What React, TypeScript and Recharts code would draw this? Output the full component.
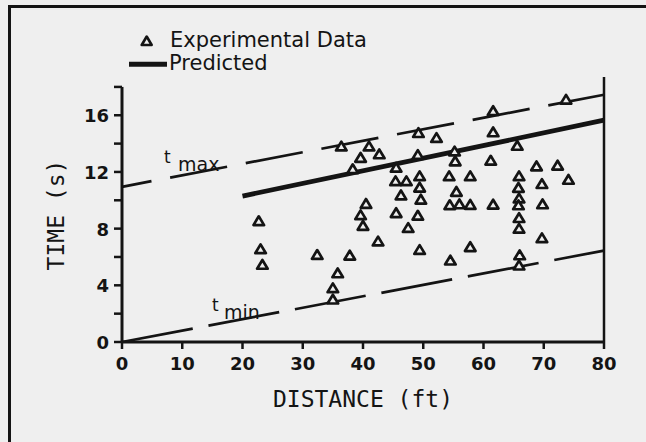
import React from 'react';
import { ComposedChart, Scatter, Line, XAxis, YAxis, ReferenceLine, Legend } from 'recharts';

const expDistance = [
  22.7, 23.0, 23.3, 32.4, 37.8, 35.8, 35.0, 35.0, 36.4, 38.3, 39.6, 41.0, 42.7, 40.5, 39.6, 40.0,
  42.5, 45.5, 45.4, 47.2, 46.3, 45.5, 47.5, 49.1, 49.4, 49.2, 49.1, 49.4, 49.4, 49.6, 52.2, 55.2,
  55.3, 54.3, 55.5, 54.4, 56.0, 57.8, 57.8, 57.8, 54.5, 61.6, 61.6, 61.2, 61.6, 65.6, 65.9, 65.8,
  65.9, 65.8, 65.9, 65.9, 66.0, 65.9, 68.8, 69.7, 69.8, 69.7, 72.3, 74.1, 73.7,
];
const expTime = [
  8.53, 6.55, 5.45, 6.15, 6.1, 4.85, 3.8, 3.0, 13.8, 12.2, 13.0, 13.8, 13.25, 9.75, 8.95, 8.2,
  7.1, 12.3, 11.35, 11.35, 10.35, 9.1, 8.05, 8.92, 6.5, 14.75, 13.2, 11.7, 10.9, 10.05, 14.4, 13.45,
  12.75, 11.7, 10.6, 9.66, 9.72, 9.68, 11.7, 6.7, 5.75, 16.3, 14.8, 12.8, 9.7, 13.85, 11.7, 10.88,
  10.13, 9.65, 8.75, 8.0, 6.12, 5.4, 12.4, 11.15, 9.72, 7.33, 12.45, 11.45, 17.1,
];

const predDistance = [20, 80];
const predTime = [10.3, 15.65];
const tMaxDistance = [0, 80];
const tMaxTime = [10.95, 17.45];
const tMinDistance = [0, 80];
const tMinTime = [0, 6.45];

const xTicks = [0, 10, 20, 30, 40, 50, 60, 70, 80];
const yTicks = [0, 2, 4, 6, 8, 10, 12, 14, 16, 18];
const yLabels = [0, 4, 8, 12, 16];

const zip = (xs: number[], ys: number[]) => xs.map((x, i) => ({ x, y: ys[i] }));

const expData = zip(expDistance, expTime);
const predData = zip(predDistance, predTime);
const tMaxData = zip(tMaxDistance, tMaxTime);
const tMinData = zip(tMinDistance, tMinTime);

const INK = '#141414';
const PAPER = '#efefef';
const SANS = '"DejaVu Sans", sans-serif';
const MONO = '"DejaVu Sans Mono", monospace';

if (typeof document !== 'undefined') {
  document.body.style.margin = '0';
  document.body.style.background = PAPER;
}

const Triangle = ({ cx, cy }: any) => (
  <path
    d={`M${cx},${cy - 4.8} L${cx + 5.3},${cy + 4} L${cx - 5.3},${cy + 4} Z`}
    fill={PAPER}
    stroke={INK}
    strokeWidth={2.7}
    strokeLinejoin="round"
  />
);

const XTick = ({ x, y, payload }: any) => (
  <text x={x} y={y + 19} textAnchor="middle" fill={INK} fontFamily={SANS} fontSize={18} fontWeight={700}>
    {payload.value}
  </text>
);

const YTick = ({ x, y, payload }: any) =>
  yLabels.includes(payload.value) ? (
    <text x={x - 3} y={y + 7} textAnchor="end" fill={INK} fontFamily={SANS} fontSize={18} fontWeight={700}>
      {payload.value}
    </text>
  ) : (
    <g />
  );

const TimeLabel = () => (
  <text
    transform="translate(56,215) rotate(-90)"
    textAnchor="middle"
    dominantBaseline="central"
    fill={INK}
    fontFamily={MONO}
    fontSize={23}
  >
    TIME (s)
  </text>
);

const renderLegend = () => (
  <svg width={400} height={80}>
    <path d="M146.7,36.5 L151.7,45 L141.7,45 Z" fill="none" stroke={INK} strokeWidth={2.6} strokeLinejoin="round" />
    <text x={170} y={46.7} fill={INK} fontFamily={SANS} fontSize={21}>
      Experimental Data
    </text>
    <line x1={129} y1={64.3} x2={167} y2={64.3} stroke={INK} strokeWidth={5} />
    <text x={169} y={70} fill={INK} fontFamily={SANS} fontSize={21}>
      Predicted
    </text>
  </svg>
);

const App = () => {
  return (
    <div style={{ position: 'relative', width: 646, height: 442, background: PAPER, overflow: 'hidden' }}>
      <ComposedChart width={646} height={442} margin={{ top: 77, right: 42, left: 0, bottom: 0 }}>
        <XAxis
          type="number"
          dataKey="x"
          domain={[0, 80]}
          ticks={xTicks}
          interval={0}
          height={100}
          axisLine={{ stroke: INK, strokeWidth: 3 }}
          tickLine={{ stroke: INK, strokeWidth: 2.5 }}
          tickSize={7}
          tick={<XTick />}
          label={{
            value: 'DISTANCE (ft)',
            position: 'insideBottom',
            offset: 35,
            style: { fontFamily: MONO, fontSize: 23, fill: INK },
          }}
        />
        <YAxis
          type="number"
          dataKey="y"
          domain={[0, 18.7]}
          ticks={yTicks}
          interval={0}
          width={122}
          axisLine={false}
          tickLine={{ stroke: INK, strokeWidth: 2.5 }}
          tickSize={8}
          tick={<YTick />}
          label={{ content: <TimeLabel /> }}
        />
        <ReferenceLine segment={[{ x: 0, y: 0 }, { x: 0, y: 18 }]} stroke={INK} strokeWidth={3} />
        <ReferenceLine x={80} stroke={INK} strokeWidth={2.5} />
        <Line
          data={tMaxData}
          dataKey="y"
          stroke={INK}
          strokeWidth={2.7}
          strokeDasharray="58 19"
          strokeDashoffset={28}
          dot={false}
          legendType="none"
          isAnimationActive={false}
        />
        <Line
          data={tMinData}
          dataKey="y"
          stroke={INK}
          strokeWidth={2.7}
          strokeDasharray="72 16"
          dot={false}
          legendType="none"
          isAnimationActive={false}
        />
        <Line
          data={predData}
          dataKey="y"
          stroke={INK}
          strokeWidth={4.8}
          dot={false}
          isAnimationActive={false}
        />
        <Scatter data={expData} dataKey="y" shape={<Triangle />} isAnimationActive={false} />
        <Legend
          layout="vertical"
          align="center"
          verticalAlign="middle"
          content={renderLegend}
          wrapperStyle={{ left: 0, top: 0, width: 400, height: 80 }}
        />
      </ComposedChart>
      <svg width={646} height={442} style={{ position: 'absolute', left: 0, top: 0, pointerEvents: 'none' }}>
        <path d="M9.5,442 L9.5,6.5 L646,6.5" fill="none" stroke={INK} strokeWidth={3} />
        <g fill={INK} fontFamily={SANS}>
          <text x={164} y={163} fontSize={17}>t</text>
          <text x={178} y={171} fontSize={19}>max</text>
          <text x={212} y={311} fontSize={17}>t</text>
          <text x={224} y={319} fontSize={19}>min</text>
        </g>
      </svg>
    </div>
  );
};

export default App;
